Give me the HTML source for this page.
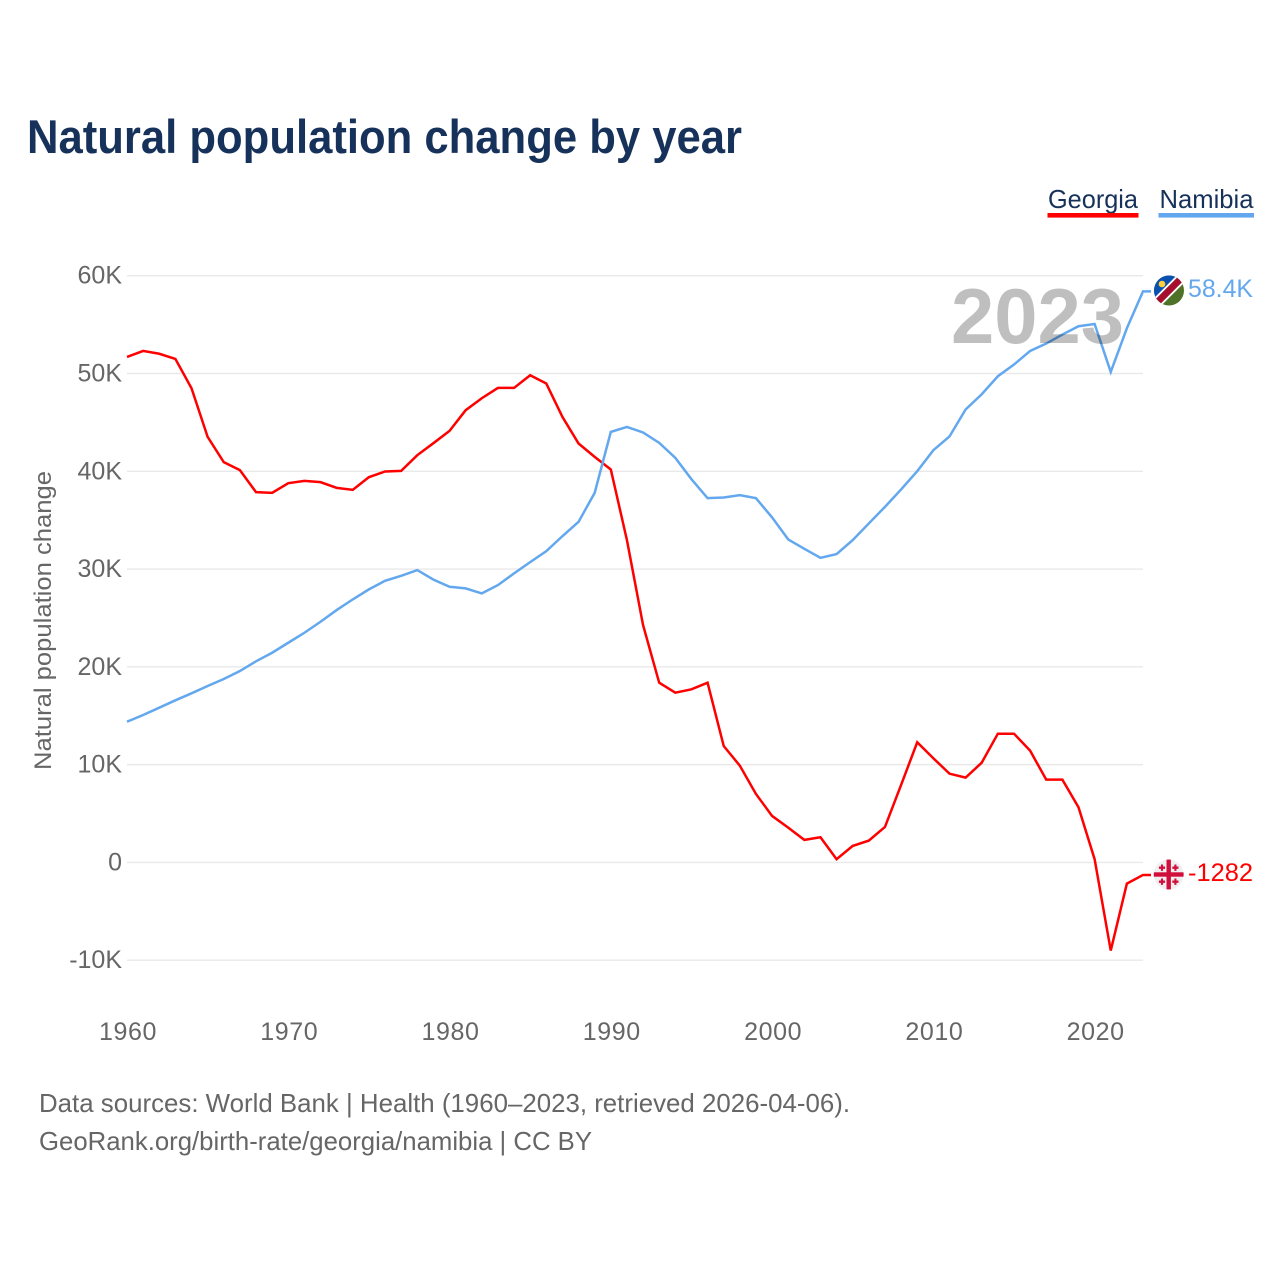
<!DOCTYPE html>
<html lang="en">
<head>
<meta charset="utf-8">
<title>Natural population change by year</title>
<style>
  html, body { margin: 0; padding: 0; background: #fff; }
  svg { display: block; font-family: "Liberation Sans", sans-serif; }
</style>
</head>
<body>
<svg id="chart" xmlns="http://www.w3.org/2000/svg" width="1280" height="1280" viewBox="0 0 1280 1280">
  <rect x="0" y="0" width="1280" height="1280" fill="#ffffff"/>
  <text x="27" y="153" font-size="47" font-weight="700" fill="#17325a" textLength="715" lengthAdjust="spacingAndGlyphs">Natural population change by year</text>

  <g>
    <text x="1048" y="208" font-size="26" fill="#17325a" textLength="90" lengthAdjust="spacingAndGlyphs">Georgia</text>
    <rect x="1047.5" y="213" width="91" height="4.6" fill="#ff0000"/>
  </g>
  <g>
    <text x="1159.5" y="208" font-size="26" fill="#17325a" textLength="94" lengthAdjust="spacingAndGlyphs">Namibia</text>
    <rect x="1158.5" y="213" width="95.5" height="4.6" fill="#63a8ee"/>
  </g>

  <text transform="translate(51,770) rotate(-90)" font-size="24" fill="#666666" textLength="299" lengthAdjust="spacingAndGlyphs">Natural population change</text>

  <g id="grid"></g>
  <g id="yticks"></g>
  <g id="xticks"></g>
  <g id="series"></g>

  <text id="year-label" x="951" y="343" font-size="78" font-weight="700" fill="#000000" fill-opacity="0.25" textLength="173" lengthAdjust="spacingAndGlyphs">2023</text>

  <defs>
    <clipPath id="clip-na"><circle cx="1169" cy="290.5" r="15"/></clipPath>
    <clipPath id="clip-ge"><circle cx="1168.7" cy="874.5" r="15"/></clipPath>
  </defs>

  <g id="flag-namibia" clip-path="url(#clip-na)">
    <rect x="1150" y="272" width="38" height="38" fill="#4f7229"/>
    <polygon points="1186.7,272.8 1151.3,308.2 1148,308 1148,270 1186,270" fill="#0a50b0"/>
    <polygon points="1190.4,276.5 1183,269.1 1147.6,304.5 1155,311.9" fill="#ffffff"/>
    <polygon points="1189.1,275.2 1184.3,270.4 1148.9,305.8 1153.7,310.6" fill="#a50e2d"/>
    <circle cx="1162" cy="284" r="3.3" fill="#ffcf3a"/>
  </g>
  <g id="flag-georgia" clip-path="url(#clip-ge)">
    <rect x="1150" y="856" width="38" height="38" fill="#efefef"/>
    <rect x="1166.5" y="856" width="4.4" height="38" fill="#d0103a"/>
    <rect x="1150" y="872.3" width="38" height="4.4" fill="#d0103a"/>
    <path d="M1161.3 870.5h1.4v-2h2v-1.6h-2v-2h-1.4v2h-2v1.6h2zM1174.7 870.5h1.4v-2h2v-1.6h-2v-2h-1.4v2h-2v1.6h2zM1161.3 884.5h1.4v-2h2v-1.6h-2v-2h-1.4v2h-2v1.6h2zM1174.7 884.5h1.4v-2h2v-1.6h-2v-2h-1.4v2h-2v1.6h2z" fill="#d0103a" stroke="#d0103a" stroke-width="0.7"/>
  </g>

  <text x="1188" y="297" font-size="25" fill="#63a8ee" textLength="65" lengthAdjust="spacingAndGlyphs">58.4K</text>
  <text x="1188" y="881" font-size="25" fill="#ff0000" textLength="65" lengthAdjust="spacingAndGlyphs">-1282</text>

  <text x="39" y="1112" font-size="26" fill="#666666" textLength="811" lengthAdjust="spacingAndGlyphs">Data sources: World Bank | Health (1960–2023, retrieved 2026-04-06).</text>
  <text x="39" y="1150" font-size="26" fill="#666666" textLength="553" lengthAdjust="spacingAndGlyphs">GeoRank.org/birth-rate/georgia/namibia | CC BY</text>
</svg>
<script>
const years = [1960,1961,1962,1963,1964,1965,1966,1967,1968,1969,1970,1971,1972,1973,1974,1975,1976,1977,1978,1979,1980,1981,1982,1983,1984,1985,1986,1987,1988,1989,1990,1991,1992,1993,1994,1995,1996,1997,1998,1999,2000,2001,2002,2003,2004,2005,2006,2007,2008,2009,2010,2011,2012,2013,2014,2015,2016,2017,2018,2019,2020,2021,2022,2023];
const georgia = [51690,52306,52020,51488,48494,43517,40931,40114,37865,37794,38785,39020,38887,38305,38100,39398,39981,40042,41647,42873,44130,46246,47472,48525,48525,49823,48974,45561,42842,41473,40185,32960,24273,18376,17354,17701,18376,11906,9893,7001,4752,3557,2300,2575,327,1686,2228,3628,7921,12284,10649,9075,8667,10200,13163,13163,11426,8462,8462,5641,327,-9014,-2167,-1282];
const namibia = [14390,15075,15821,16577,17292,18038,18754,19571,20563,21442,22464,23486,24610,25806,26899,27921,28800,29311,29894,28923,28187,28023,27512,28361,29556,30711,31835,33368,34830,37794,44028,44539,43966,42904,41371,39194,37252,37323,37559,37252,35279,33031,32070,31151,31529,32960,34666,36363,38141,40011,42158,43558,46317,47881,49720,50916,52306,53062,53982,54830,55065,50160,54626,58400];
const yTickValues = [-10000,0,10000,20000,30000,40000,50000,60000];
const yTickLabels = ["-10K","0","10K","20K","30K","40K","50K","60K"];
const xTickValues = [1960,1970,1980,1990,2000,2010,2020];
const xTickLabels = ["1960","1970","1980","1990","2000","2010","2020"];

const NS = "http://www.w3.org/2000/svg";
function xScale(year) { return 127 + (year - 1960) * (1143 - 127) / 63; }
function yScale(v) { return 862.4 - v * 97.78 / 10000; }

const gridG = document.getElementById("grid");
const yG = document.getElementById("yticks");
const xG = document.getElementById("xticks");
const seriesG = document.getElementById("series");

yTickValues.forEach(function (v, i) {
  const line = document.createElementNS(NS, "line");
  
  
  line.setAttribute("x1", xScale(1960));
  line.setAttribute("x2", xScale(2023));
  line.setAttribute("y1", yScale(v));
  line.setAttribute("y2", yScale(v));
  line.setAttribute("stroke", "#e9e9e9");
  line.setAttribute("stroke-width", "1.4");
  gridG.appendChild(line);

  const t = document.createElementNS(NS, "text");
  
  
  t.setAttribute("x", 122);
  t.setAttribute("y", yScale(v) + 8);
  t.setAttribute("text-anchor", "end");
  t.setAttribute("font-size", "25");
  t.setAttribute("fill", "#666666");
  t.textContent = yTickLabels[i];
  yG.appendChild(t);
});

xTickValues.forEach(function (v, i) {
  const t = document.createElementNS(NS, "text");
  
  
  t.setAttribute("x", xScale(v) + 1);
  t.setAttribute("y", 1040);
  t.setAttribute("text-anchor", "middle");
  t.setAttribute("font-size", "25");
  t.setAttribute("letter-spacing", "0.6");
  t.setAttribute("fill", "#666666");
  t.textContent = xTickLabels[i];
  xG.appendChild(t);
});

function linePath(values) {
  const parts = values.map(function (v, i) {
    return (i === 0 ? "M" : "L") + xScale(years[i]).toFixed(2) + " " + yScale(v).toFixed(2);
  });
  const last = values[values.length - 1];
  parts.push("L" + (xScale(years[years.length - 1]) + 8).toFixed(2) + " " + yScale(last).toFixed(2));
  return parts.join(" ");
}

const georgiaLine = document.createElementNS(NS, "path");


georgiaLine.setAttribute("d", linePath(georgia));
georgiaLine.setAttribute("fill", "none");
georgiaLine.setAttribute("stroke", "#ff0000");
georgiaLine.setAttribute("stroke-width", "2.5");
seriesG.appendChild(georgiaLine);

const namibiaLine = document.createElementNS(NS, "path");


namibiaLine.setAttribute("d", linePath(namibia));
namibiaLine.setAttribute("fill", "none");
namibiaLine.setAttribute("stroke", "#63a8ee");
namibiaLine.setAttribute("stroke-width", "2.5");
seriesG.appendChild(namibiaLine);
</script>
</body>
</html>
